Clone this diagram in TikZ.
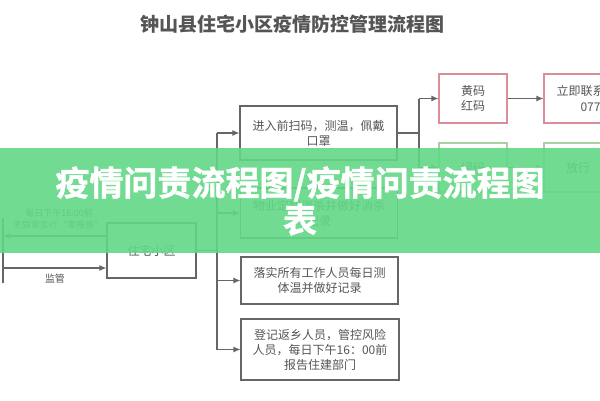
\documentclass[tikz,border=0pt]{standalone}
\usepackage{fontspec}
\newfontfamily\cjk{Noto Sans CJK SC}
\newfontfamily\cjkheavy[UprightFont=*, BoldFont=*, FakeBold=1.2]{Noto Sans CJK SC Bold}
\usetikzlibrary{arrows.meta}
\definecolor{linegray}{HTML}{666666}
\definecolor{txtgray}{HTML}{555555}
\definecolor{pinkb}{HTML}{D98E98}
\definecolor{greenb}{HTML}{A8D0A0}
\definecolor{banner}{HTML}{62D886}
\begin{document}
\begin{tikzpicture}[x=1pt,y=-1pt,
  every node/.style={font=\cjk, text=txtgray},
  box/.style={draw=linegray, line width=1.1pt, align=center, inner sep=2pt,
    font=\cjk\fontsize{12}{15}\selectfont},
  tagbox/.style={box, minimum width=68pt, minimum height=49pt},
  conn/.style={draw=linegray, line width=1.1pt},
  arr/.style={conn, -{Latex[length=7pt,width=6pt]}},
  small/.style={font=\cjk\fontsize{9}{11}\selectfont}]
\useasboundingbox (0,0) rectangle (600,400);
\clip (0,0) rectangle (600,400);
\fill[white] (0,0) rectangle (600,400);

\node[font=\cjk\bfseries\fontsize{19}{22}\selectfont, text=txtgray] (title) at (292,24) {钟山县住宅小区疫情防控管理流程图};

\node[box, minimum width=89pt, minimum height=55pt] (zz) at (151.5,250.5) {住宅小区};

\node[box, minimum width=157pt, minimum height=54pt] (b1) at (318.5,133) {进入前扫码，测温，佩戴\\口罩};
\node[box, minimum width=157pt, minimum height=50pt] (b2) at (319,213) {物业定期消杀并做好消杀\\记录};
\node[box, minimum width=157pt, minimum height=47pt] (b3) at (319.5,280.5) {落实所有工作人员每日测\\体温并做好记录};
\node[box, minimum width=158pt, minimum height=61pt] (b4) at (320,349.5) {登记返乡人员，管控风险\\人员，每日下午16：00前\\报告住建部门};

\node[tagbox, draw=pinkb] (yr) at (473,98.5) {黄码\\红码};
\node[tagbox, draw=pinkb, minimum width=68pt] (lx) at (578,98.5) {};
\node[anchor=west, font=\cjk\fontsize{12}{15}\selectfont] (lxt1) at (553,91) {立即联系};
\node[anchor=west, font=\cjk\fontsize{12}{15}\selectfont] (lxt2) at (577,107) {0774};
\node[tagbox, draw=greenb] (lm) at (473,167.5) {绿码};
\node[tagbox, draw=greenb] (fx) at (578,167.5) {放行};

% left edge
\coordinate (E1) at (3,218);
\coordinate (E2) at (3,283);
\draw[conn] (E1) -- (E2);
\coordinate (L1) at (3,236);
\coordinate (L2) at (3,268);
\draw[arr] ([yshift=14.5pt]zz.west) -- (L1);
\draw[arr] (L2) -- ([yshift=-17.5pt]zz.west);
\node[small] (lab1) at (59,213) {每日下午16:00前};
\node[small] (lab2) at (58,225.5) {无异常实行“零报告”};
\node[font=\cjk\fontsize{10}{12}\selectfont] (lab3) at (55,279) {监管};

% main trunk
\coordinate (T) at (217,250.5);
\draw[conn] (zz.east) -- (T);
\draw[conn] (b1.west -| T) -- (b4.west -| T);
\draw[arr] (b1.west -| T) -- (b1.west);
\draw[arr] (b2.west -| T) -- (b2.west);
\draw[arr] (b3.west -| T) -- (b3.west);
\draw[arr] (b4.west -| T) -- (b4.west);

% right trunk
\coordinate (R) at (419,133);
\draw[conn] (b1.east) -- (R);
\draw[conn] (yr.west -| R) -- (lm.west -| R);
\draw[arr] (yr.west -| R) -- (yr.west);
\draw[arr] (lm.west -| R) -- (lm.west);
\draw[arr] (yr.east) -- (lx.west);
\draw[arr] (lm.east) -- (fx.west);

% banner overlay
\fill[banner, fill opacity=0.9] (0,148) rectangle (600,253);
\node[font=\cjkheavy\fontsize{34}{37}\selectfont, text=white, align=center] (bt) at (300,201) {疫情问责流程图/疫情问责流程图\\表};
\end{tikzpicture}
\end{document}
